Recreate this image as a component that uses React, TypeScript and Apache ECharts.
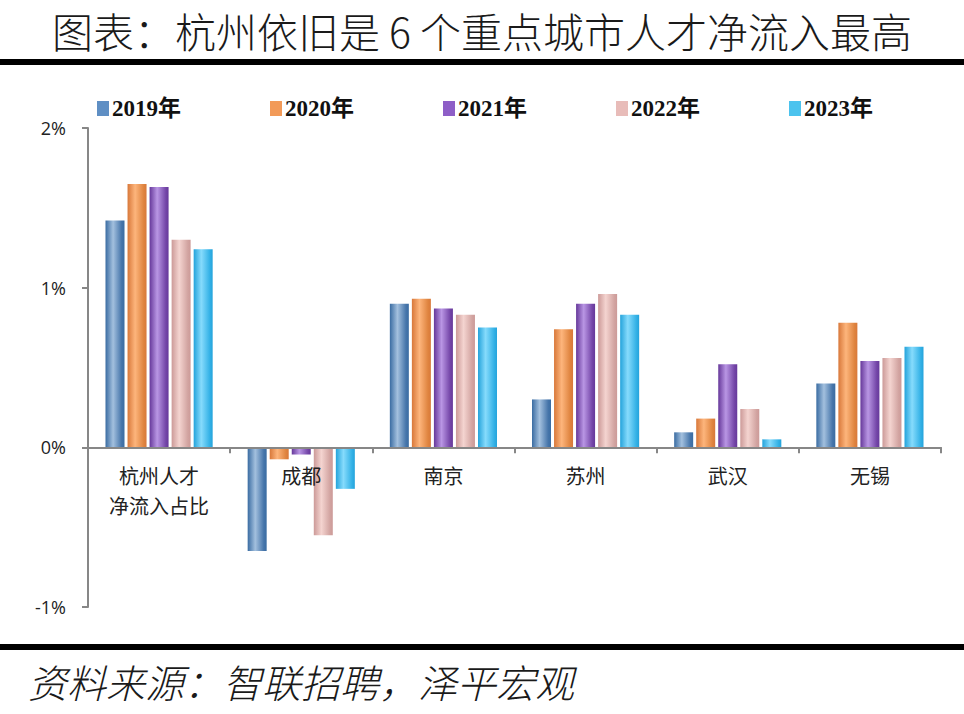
import React, { useEffect, useRef } from "react";
import * as echarts from "echarts";

const categories = ["杭州人才\n净流入占比", "成都", "南京", "苏州", "武汉", "无锡"];
const seriesNames = ["2019年", "2020年", "2021年", "2022年", "2023年"];
const v2019 = [1.42, -0.65, 0.9, 0.3, 0.094, 0.4];
const v2020 = [1.65, -0.075, 0.93, 0.74, 0.18, 0.78];
const v2021 = [1.63, -0.045, 0.87, 0.9, 0.52, 0.54];
const v2022 = [1.3, -0.55, 0.83, 0.96, 0.24, 0.56];
const v2023 = [1.24, -0.26, 0.75, 0.83, 0.05, 0.63];
const yTicks = [-1, 0, 1, 2];

const palette = [
  ["#3a6ca2", "#a3c0de", "#4675aa"],
  ["#d8783a", "#fdb57c", "#df843f"],
  ["#66389a", "#b996e4", "#7446a8"],
  ["#cc9a98", "#f4d4d0", "#d2a4a1"],
  ["#24a3db", "#86dbfc", "#33b1e6"],
];
const legendColors = ["#5f8fc4", "#f29a58", "#8e5ec7", "#e8bcb9", "#4cc3ee"];

function grad(c: string[]) {
  return new echarts.graphic.LinearGradient(0, 0, 1, 0, [
    { offset: 0, color: c[0] },
    { offset: 0.4, color: c[1] },
    { offset: 0.85, color: c[2] },
    { offset: 1, color: c[0] },
  ]);
}

export default function App() {
  const ref = useRef<HTMLDivElement>(null);
  useEffect(() => {
    if (!ref.current) return;
    const chart = echarts.init(ref.current, undefined, { renderer: "svg" });
    const data = [v2019, v2020, v2021, v2022, v2023];
    const gridTop = 128;
    const gridBottom = 107;
    const plotH = 714 - gridTop - gridBottom;
    const zeroOffset = -plotH / 3; // distance from bottom (-1%) up to 0%
    chart.setOption({
      animation: false,
      backgroundColor: "#ffffff",
      graphic: [
        {
          type: "text",
          left: "center",
          top: 9,
          style: {
            text: "图表：杭州依旧是 6 个重点城市人才净流入最高",
            font: '300 41px "Noto Sans CJK SC"',
            fill: "#1a1a1a",
          },
        },
        { type: "rect", shape: { x: 0, y: 59, width: 964, height: 6 }, style: { fill: "#000" } },
        { type: "rect", shape: { x: 0, y: 644, width: 964, height: 6 }, style: { fill: "#000" } },
        {
          type: "text",
          left: 28,
          top: 661,
          style: {
            text: "资料来源：智联招聘，泽平宏观",
            font: 'italic 300 39px "Noto Sans CJK SC"',
            fill: "#1a1a1a",
          },
        },
      ],
      legend: {
        left: 92,
        top: 92,
        itemWidth: 12,
        itemHeight: 15,
        itemGap: 89,
        icon: "rect",
        data: seriesNames.map((n, i) => ({ name: n, itemStyle: { color: legendColors[i] } })),
        textStyle: {
          fontFamily: '"Liberation Serif", "Noto Sans CJK SC"',
          fontWeight: "bold",
          fontSize: 23,
          color: "#111",
          padding: [0, 0, 0, -2],
        },
      },
      grid: { left: 88, right: 23, top: gridTop, bottom: gridBottom, containLabel: false },
      xAxis: {
        type: "category",
        data: categories,
        offset: zeroOffset,
        z: 5,
        axisLine: { onZero: false, lineStyle: { color: "#878787", width: 2 } },
        axisTick: { show: true, length: 6, lineStyle: { color: "#878787", width: 2 } },
        axisLabel: {
          margin: 13,
          fontSize: 20,
          lineHeight: 30,
          color: "#222",
          fontFamily: '"Noto Sans CJK SC"',
          verticalAlign: "top",
        },
        splitLine: { show: false },
      },
      yAxis: {
        type: "value",
        min: -1,
        max: 2,
        interval: 1,
        axisLine: { show: true, lineStyle: { color: "#878787", width: 2 } },
        axisTick: { show: true, length: 6, lineStyle: { color: "#878787", width: 2 } },
        splitLine: { show: false },
        axisLabel: {
          margin: 22,
          fontSize: 18,
          color: "#222",
          fontFamily: '"Open Sans", "Liberation Sans"',
          formatter: (v: number) => (yTicks.includes(v) ? `${v}%` : ""),
        },
      },
      series: seriesNames.map((n, i) => ({
        name: n,
        type: "bar",
        data: data[i],
        barWidth: 19,
        barGap: "16%",
        itemStyle: { color: grad(palette[i]) },
      })),
    });
    return () => chart.dispose();
  }, []);
  return (
    <div
      ref={ref}
      style={{ position: "fixed", left: 0, top: 0, width: 964, height: 714, background: "#fff" }}
    />
  );
}
